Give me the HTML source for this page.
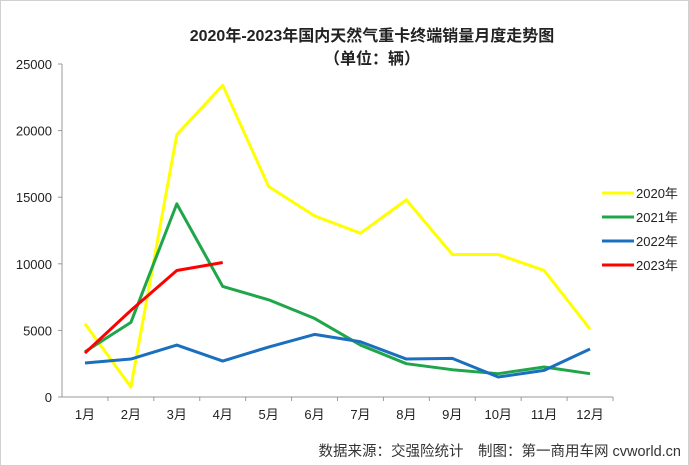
<!DOCTYPE html>
<html><head><meta charset="utf-8"><style>
body{margin:0;background:#fff;}
#wrap{width:689px;height:466px;position:relative;overflow:hidden;background:#fff;}
text{font-family:"Liberation Sans","Noto Sans CJK SC",sans-serif;}
</style></head><body>
<div id="wrap">
<svg id="chart" width="689" height="466">
<rect x="0.5" y="0.5" width="688" height="465" fill="#fff" stroke="#d0d0d0"/>
<text x="372" y="41" text-anchor="middle" font-size="16" font-weight="bold" fill="#222">2020年-2023年国内天然气重卡终端销量月度走势图</text>
<text x="372" y="64" text-anchor="middle" font-size="16" font-weight="bold" fill="#222">（单位：辆）</text>
<g id="axes"></g><g id="series"></g><g id="legend"></g>
<text x="681" y="456" text-anchor="end" font-size="14.5" fill="#333">数据来源：交强险统计　制图：第一商用车网 cvworld.cn</text>
</svg>
</div>
<script>
const categories=["1月","2月","3月","4月","5月","6月","7月","8月","9月","10月","11月","12月"];
const yTicks=[0,5000,10000,15000,20000,25000];
const s2020=[5500,750,19700,23400,15800,13600,12300,14800,10700,10700,9500,5100];
const s2021=[3400,5600,14500,8300,7300,5900,3900,2500,2050,1750,2250,1750];
const s2022=[2550,2850,3900,2700,3750,4700,4150,2850,2900,1500,2000,3600];
const s2023=[3300,6500,9500,10100];
const seriesNames=["2020年","2021年","2022年","2023年"];
const seriesColors=["#ffff00","#1fa64a","#1a6fbf","#ff0000"];
const NS="http://www.w3.org/2000/svg";
const x0=62,x1=613,y0=397,y1=64;
function xPos(i){return x0+(x1-x0)/12*(i+0.5);}
function yPos(v){return y0-(y0-y1)*v/25000;}
function mk(t,a,p){const e=document.createElementNS(NS,t);for(const k in a)e.setAttribute(k,a[k]);p.appendChild(e);return e;}
const axes=document.getElementById('axes');
const ya=mk('line',{x1:x0,y1:y1,x2:x0,y2:y0,stroke:'#999'},axes);


const xa=mk('line',{x1:x0,y1:y0,x2:x1,y2:y0,stroke:'#999'},axes);


yTicks.forEach(v=>{
 const t=mk('text',{x:x0-10,y:yPos(v)+5,'text-anchor':'end','font-size':13,fill:'#222'},axes);
 t.textContent=v;
 
 
 mk('line',{x1:x0-4,y1:yPos(v),x2:x0,y2:yPos(v),stroke:'#999'},axes);
});
categories.forEach((c,i)=>{
 const t=mk('text',{x:xPos(i),y:y0+22,'text-anchor':'middle','font-size':13,fill:'#222'},axes);
 t.textContent=c;
 
 
 mk('line',{x1:x0+(x1-x0)/12*(i+1),y1:y0,x2:x0+(x1-x0)/12*(i+1),y2:y0+4,stroke:'#999'},axes);
});
const sg=document.getElementById('series');
[s2020,s2021,s2022,s2023].forEach((d,k)=>{
 const p=mk('polyline',{points:d.map((v,i)=>xPos(i)+','+yPos(v)).join(' '),fill:'none',stroke:seriesColors[k],'stroke-width':3,'stroke-linejoin':'round'},sg);
 
 
});
const lg=document.getElementById('legend');
seriesNames.forEach((n,k)=>{
 const y=193+k*24;
 const l=mk('line',{x1:602,y1:y,x2:634,y2:y,stroke:seriesColors[k],'stroke-width':3},lg);
 
 
 const t=mk('text',{x:636,y:y+5,'font-size':13,fill:'#222'},lg);
 t.textContent=n;
 
 
});
</script>
</body></html>
